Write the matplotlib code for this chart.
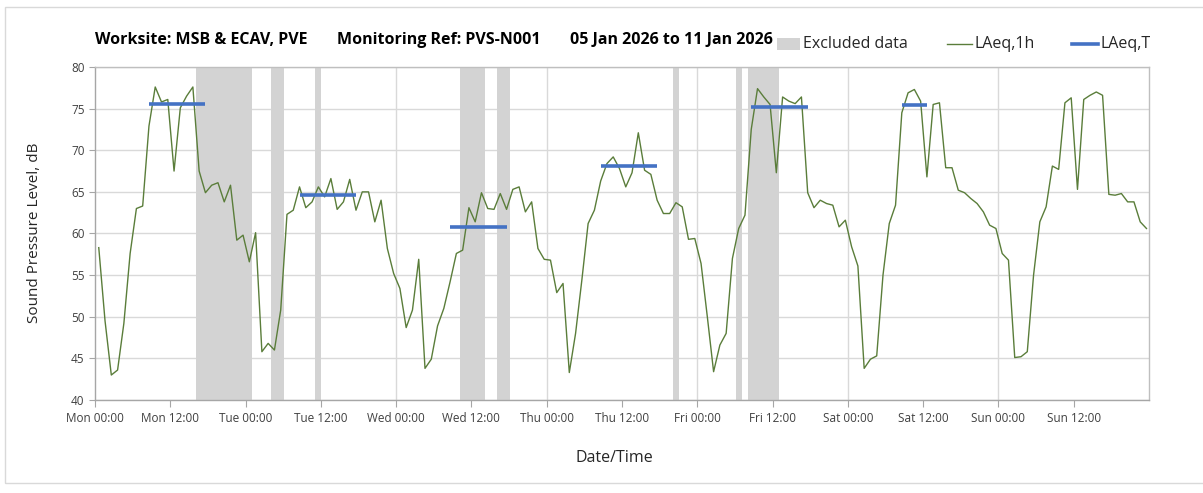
import matplotlib
matplotlib.use("Agg")
import matplotlib.pyplot as plt
from matplotlib.lines import Line2D
from matplotlib.patches import Rectangle
import numpy as np

# ---- data ----
laeq_1h = [
    58.3, 49.5, 43.0, 43.6, 49.2, 57.6, 63.0, 63.3, 72.9, 77.6,
    75.8, 76.1, 67.5, 75.1, 76.5, 77.6, 67.5, 64.9, 65.8, 66.1,
    63.8, 65.8, 59.2, 59.8, 56.6, 60.1, 45.8, 46.8, 46.0, 50.8,
    62.3, 62.8, 65.6, 63.1, 63.8, 65.6, 64.4, 66.6, 62.9, 63.8,
    66.5, 62.8, 65.0, 65.0, 61.4, 64.0, 58.2, 55.2, 53.4, 48.7,
    50.8, 56.9, 43.8, 44.9, 48.9, 51.0, 54.2, 57.6, 58.0, 63.1,
    61.4, 64.9, 63.0, 62.9, 64.8, 62.9, 65.3, 65.6, 62.6, 63.8,
    58.2, 56.9, 56.8, 52.9, 54.0, 43.3, 48.0, 54.4, 61.2, 62.8,
    66.3, 68.4, 69.2, 67.8, 65.6, 67.3, 72.1, 67.6, 67.1, 64.0,
    62.4, 62.4, 63.7, 63.2, 59.3, 59.4, 56.4, 50.0, 43.4, 46.6,
    48.0, 57.0, 60.6, 62.2, 72.5, 77.4, 76.4, 75.5, 67.3, 76.4,
    75.9, 75.6, 76.4, 64.9, 63.1, 64.0, 63.6, 63.4, 60.8, 61.6,
    58.4, 56.1, 43.8, 44.9, 45.3, 55.0, 61.2, 63.4, 74.5, 76.9,
    77.3, 75.9, 66.8, 75.5, 75.7, 67.9, 67.9, 65.2, 64.9, 64.2,
    63.6, 62.6, 61.0, 60.6, 57.6, 56.8, 45.1, 45.2, 45.8, 55.0,
    61.4, 63.2, 68.1, 67.7, 75.7, 76.3, 65.3, 76.1, 76.6, 77.0,
    76.6, 64.7, 64.6, 64.8, 63.8, 63.8, 61.4, 60.6,
]
# LAeq,T periods: (first hour, last hour, level)
laeq_t_start = [8, 32, 56, 80, 104, 128]
laeq_t_end = [17, 41, 65, 89, 113, 132]
laeq_t_level = [75.6, 64.6, 60.8, 68.1, 75.2, 75.4]
# excluded hours (start hour, number of hours)
excl_start = [16, 28, 35, 58, 64, 92, 102, 104]
excl_len = [9, 2, 1, 4, 2, 1, 1, 5]
tick_labels = ["Mon 00:00", "Mon 12:00", "Tue 00:00", "Tue 12:00", "Wed 00:00",
               "Wed 12:00", "Thu 00:00", "Thu 12:00", "Fri 00:00", "Fri 12:00",
               "Sat 00:00", "Sat 12:00", "Sun 00:00", "Sun 12:00"]
legend_labels = ["Excluded data", "LAeq,1h", "LAeq,T"]

FONT = "Open Sans"
GREEN = "#5a7d3a"
BLUE = "#4472c4"
BAND = "#d3d3d3"
W, H = 1203, 493
fig = plt.figure(figsize=(W / 100, H / 100), dpi=100)
ax = fig.add_axes([95 / W, 1 - 400 / H, (1149 - 95) / W, (400 - 67) / H])

off = 0.6
hours = np.arange(len(laeq_1h)) + off

# excluded bands as columns
ex_x = []
for s, n in zip(excl_start, excl_len):
    for k in range(n):
        ex_x.append(s + k + off)
ax.bar(ex_x, [40] * len(ex_x), bottom=40, width=1.0, color=BAND,
       linewidth=0, zorder=1)

ax.plot(hours, laeq_1h, color=GREEN, lw=1.0, zorder=3)
for s, e, v in zip(laeq_t_start, laeq_t_end, laeq_t_level):
    ax.plot([s + off, e + off], [v, v], color=BLUE, lw=2.6,
            solid_capstyle="butt", zorder=4)

ax.set_xlim(0, 168)
ax.set_ylim(40, 80)
ax.set_yticks(np.arange(40, 81, 5))
ax.set_xticks(np.arange(0, 168, 12))
ax.set_xticklabels(tick_labels, fontsize=8.5, family=FONT, color="#404040")
ax.tick_params(axis="y", labelsize=8.5, colors="#404040", length=4,
               color="#a6a6a6", direction="out")
ax.tick_params(axis="x", length=5, color="#a6a6a6", direction="out", pad=4)
for lab in ax.get_yticklabels():
    lab.set_family(FONT)
ax.grid(axis="y", color="#d9d9d9", lw=1.0, zorder=0)
for d in range(24, 168, 24):
    ax.axvline(d, color="#d9d9d9", lw=1.0, zorder=0)
ax.set_axisbelow(True)
for sp in ax.spines.values():
    sp.set_color("#a6a6a6")
    sp.set_linewidth(1.0)
ax.spines["top"].set_color("#bfbfbf")
ax.spines["right"].set_color("#bfbfbf")

fig.text(35 / W, 1 - 233 / H, "Sound Pressure Level, dB", fontsize=11,
         family=FONT, color="#262626", rotation=90, ha="center", va="center")
fig.text(614 / W, 1 - 458 / H, "Date/Time", fontsize=11.5, family=FONT,
         color="#262626", ha="center", va="center")

# title pieces
ty = 1 - 40 / H
for x0, txt in [(95, "Worksite: MSB & ECAV, PVE"),
                (337, "Monitoring Ref: PVS-N001"),
                (570, "05 Jan 2026 to 11 Jan 2026")]:
    fig.text(x0 / W, ty, txt, fontsize=11.5, weight="bold", family=FONT,
             va="center", ha="left", color="#000000")

# legend (drawn manually at the reference positions)
ly = 1 - 44 / H
fig.add_artist(Rectangle((777 / W, 1 - 50 / H), 23 / W, 12 / H,
                         transform=fig.transFigure, facecolor=BAND,
                         edgecolor="none"))
fig.add_artist(Line2D([947 / W, 972 / W], [ly, ly], transform=fig.transFigure,
                      color=GREEN, lw=1.0))
fig.add_artist(Line2D([1072 / W, 1098 / W], [ly, ly], transform=fig.transFigure,
                      color=BLUE, lw=2.6))
for x0, txt in zip([803, 975, 1100], legend_labels):
    fig.text(x0 / W, ly, txt, fontsize=11.5, family=FONT, color="#262626",
             va="center", ha="left")

# outer chart border
fig.add_artist(Rectangle((5 / W, 10 / H), 1.2, 1 - 17 / H, transform=fig.transFigure,
                         fill=False, edgecolor="#d9d9d9", lw=1.0))

fig.savefig("out.png", dpi=100)
